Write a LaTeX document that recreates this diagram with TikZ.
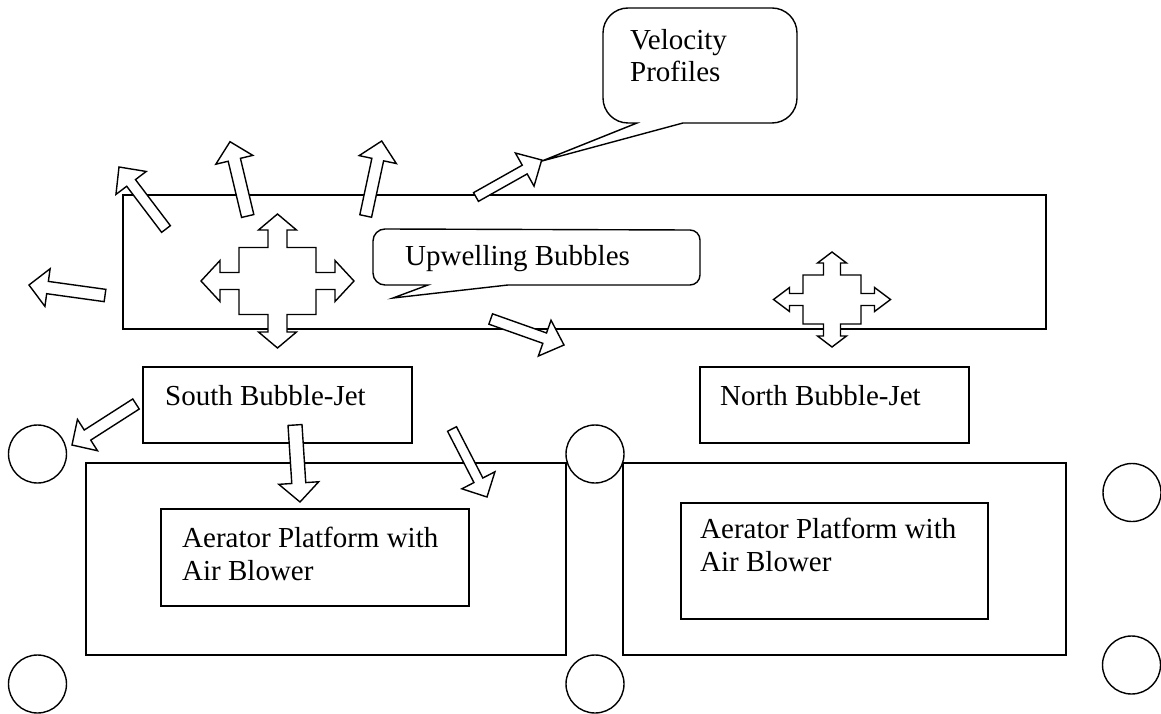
\documentclass[tikz,border=0pt]{standalone}
\usepackage{fontspec}
\setmainfont{Liberation Serif}
\usetikzlibrary{calc}
\tikzset{
  ln/.style={line width=1.4pt, line join=miter},
  barrow/.style={ln, draw=black, fill=white},
  box/.style={ln, draw=black, rectangle, inner sep=0pt, outer sep=0pt},
  circ/.style={ln, draw=black, fill=white, circle, inner sep=0pt, minimum size=58pt},
  callout/.style={ln, draw=black, fill=white},
  txt/.style={font=\fontsize{29}{33}\selectfont, inner sep=0pt, anchor=base west}
}
\def\fwset#1/#2/#3/#4/#5/#6/#7/#8/#9/{\def\Tv{#1}\def\Lv{#2}\def\Hv{#3}\def\Sv{#4}\def\Iy{#5}\def\Th{#6}\def\Lh{#7}\def\Hh{#8}\def\Sh{#9}}
\newcommand{\fourway}[3]{%
  \fwset#2/\def\Ix{#3}%
  \draw[barrow,shift={(#1)}]
   (0,-\Tv) -- ({\Hv},{\Lv-\Tv}) -- ({\Sv},{\Lv-\Tv}) -- ({\Sv},{-\Iy}) -- ({\Ix},{-\Iy}) -- ({\Ix},{-\Sh})
   -- ({\Th-\Lh},{-\Sh}) -- ({\Th-\Lh},{-\Hh}) -- ({\Th},0) -- ({\Th-\Lh},{\Hh}) -- ({\Th-\Lh},{\Sh})
   -- ({\Ix},{\Sh}) -- ({\Ix},{\Iy}) -- ({\Sv},{\Iy}) -- ({\Sv},{\Tv-\Lv}) -- ({\Hv},{\Tv-\Lv}) -- (0,{\Tv})
   -- ({-\Hv},{\Tv-\Lv}) -- ({-\Sv},{\Tv-\Lv}) -- ({-\Sv},{\Iy}) -- ({-\Ix},{\Iy}) -- ({-\Ix},{\Sh})
   -- ({\Lh-\Th},{\Sh}) -- ({\Lh-\Th},{\Hh}) -- ({-\Th},0) -- ({\Lh-\Th},{-\Hh}) -- ({\Lh-\Th},{-\Sh})
   -- ({-\Ix},{-\Sh}) -- ({-\Ix},{-\Iy}) -- ({-\Sv},{-\Iy}) -- ({-\Sv},{\Lv-\Tv}) -- ({-\Hv},{\Lv-\Tv}) -- cycle;}
\newcommand{\blockarrow}[5]{%
  \coordinate (ba) at ($(#2)!#5!(#1)$);
  \draw[barrow] ($(#1)!#3!90:(#2)$) -- ($(ba)!#3!90:(#2)$) -- ($(ba)!#4!90:(#2)$) -- (#2)
    -- ($(ba)!#4!-90:(#2)$) -- ($(ba)!#3!-90:(#2)$) -- ($(#1)!#3!-90:(#2)$) -- cycle;}
\begin{document}
\begin{tikzpicture}[x=1pt, y=-1pt]
\useasboundingbox (0,0) rectangle (1161,714);
% main region
\node[box, line width=1.9pt, minimum width=923pt, minimum height=134pt] (tank) at (584.5,262) {};
% callouts
\draw[callout] (542,161) -- (683,123) -- (772,123) arc[start angle=90,end angle=0,radius=25]
  -- (797,33) arc[start angle=0,end angle=-90,radius=25]
  -- (628,8) arc[start angle=270,end angle=180,radius=25]
  -- (603,98) arc[start angle=180,end angle=90,radius=25]
  -- (637,123) -- cycle;
\draw[callout] (393,298) -- (508,285) -- (690,285) arc[start angle=90,end angle=0,radius=10]
  -- (700,240) arc[start angle=0,end angle=-90,radius=10]
  -- (385,229) arc[start angle=270,end angle=180,radius=12]
  -- (373,273) arc[start angle=180,end angle=90,radius=12]
  -- (428,285) -- cycle;
% four-way arrows
\coordinate (quadS) at (277.5,281);
\coordinate (quadN) at (832,299.5);
\fourway{quadS}{67/16/19/9.5/33.5/76.5/19/20.5/8.5}{38.5}
\fourway{quadN}{47.5/11/14.5/8.5/24.5/58.5/16/12/6}{29}
% upper block arrows
\coordinate (a1s) at (166,229);   \coordinate (a1e) at (119,167);
\coordinate (a2s) at (247.7,216); \coordinate (a2e) at (230,141.7);
\coordinate (a3s) at (365.7,216); \coordinate (a3e) at (381.7,141);
\coordinate (a4s) at (105,295.5); \coordinate (a4e) at (29,285);
\coordinate (a5s) at (476,197);   \coordinate (a5e) at (541.7,160);
\coordinate (a6s) at (490.7,319); \coordinate (a6e) at (564,345);
\blockarrow{a1s}{a1e}{5.5pt}{19pt}{20pt}
\blockarrow{a2s}{a2e}{6.3pt}{19pt}{18.6pt}
\blockarrow{a3s}{a3e}{6pt}{19pt}{19pt}
\blockarrow{a4s}{a4e}{6.2pt}{19pt}{18.7pt}
\blockarrow{a5s}{a5e}{5pt}{19pt}{19.5pt}
\blockarrow{a6s}{a6e}{5.5pt}{19pt}{20.5pt}
% boxes
\node[box, minimum width=269pt, minimum height=76pt] (south) at (277.5,405) {};
\node[box, minimum width=269pt, minimum height=76pt] (north) at (834.5,405) {};
\node[box, minimum width=480pt, minimum height=192pt] (platS) at (326,559) {};
\node[box, minimum width=443pt, minimum height=192pt] (platN) at (844.5,559) {};
\node[box, minimum width=308pt, minimum height=97pt] (aerS) at (315,557.5) {};
\node[box, minimum width=307pt, minimum height=116pt] (aerN) at (834.5,561) {};
% circles
\node[circ] (c1) at (37.5,454) {};
\node[circ] (c2) at (595,454) {};
\node[circ] (c3) at (1132,492.5) {};
\node[circ] (c4) at (37.5,684) {};
\node[circ] (c5) at (595,684) {};
\node[circ] (c6) at (1131.5,665) {};
% lower block arrows
\coordinate (a7s) at (136,404); \coordinate (a7e) at (72,445);
\coordinate (a8s) at (295,425); \coordinate (a8e) at (300,502);
\coordinate (a9s) at (452,429); \coordinate (a9e) at (487,497);
\blockarrow{a7s}{a7e}{6pt}{18.6pt}{18.4pt}
\blockarrow{a8s}{a8e}{7pt}{20pt}{19pt}
\blockarrow{a9s}{a9e}{5pt}{18.6pt}{18.8pt}
% texts
\node[txt] (t1) at (630,50) {Velocity};
\node[txt] (t2) at (630,82) {Profiles};
\node[txt] (t3) at (405,265) {Upwelling Bubbles};
\node[txt] (t4) at (165,405) {South Bubble-Jet};
\node[txt] (t5) at (720,405) {North Bubble-Jet};
\node[txt] (t6) at (182,547) {Aerator Platform with};
\node[txt] (t7) at (182,580) {Air Blower};
\node[txt] (t8) at (700,538) {Aerator Platform with};
\node[txt] (t9) at (700,571) {Air Blower};
\end{tikzpicture}
\end{document}
